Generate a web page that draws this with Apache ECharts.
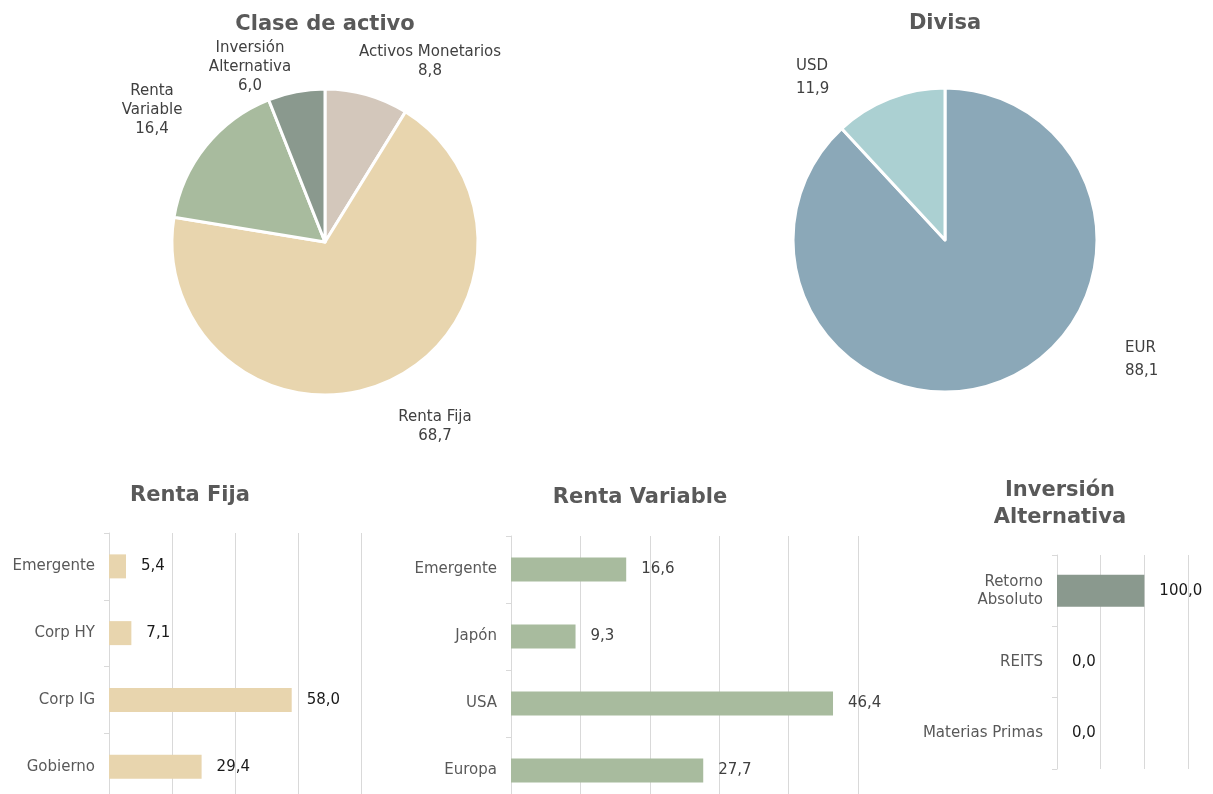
<!DOCTYPE html>
<html>
<head>
<meta charset="utf-8">
<script src="https://cdn.jsdelivr.net/npm/echarts@6/dist/echarts.min.js"></script>
<style>
  html, body { margin: 0; padding: 0; background: #fff; overflow: hidden; }
  #chart { width: 1213px; height: 812px; }
</style>
</head>
<body>
<div id="chart"></div>
<script>
// pie: asset class
const claseNames = ["Activos Monetarios", "Renta Fija", "Renta Variable", "Inversión Alternativa"];
const claseLabels = ["Activos Monetarios", "Renta Fija", "Renta\nVariable", "Inversión\nAlternativa"];
const claseValues = [8.8, 68.7, 16.4, 6.0];
const claseColors = ["#d3c7bb", "#e8d5ae", "#a8bb9e", "#8a998e"];

// pie: currency
const divisaNames = ["EUR", "USD"];
const divisaValues = [88.1, 11.9];
const divisaColors = ["#8ba8b8", "#abd0d2"];

// bars
const rfCats = ["Emergente", "Corp HY", "Corp IG", "Gobierno"];
const rfValues = [5.4, 7.1, 58.0, 29.4];
const rvCats = ["Emergente", "Japón", "USA", "Europa"];
const rvValues = [16.6, 9.3, 46.4, 27.7];
const iaCats = ["Retorno\nAbsoluto", "REITS", "Materias Primas"];
const iaValues = [100.0, 0.0, 0.0];

// label positions for the pies (text block anchors)
const clasePos = [[430, 62, "center"], [435, 427, "center"], [152, 110, "center"], [250, 67, "center"]];
const divisaPos = [[1125, 360, "left"], [796, 78, "left"]];

const FONT = "'DejaVu Sans', Verdana, sans-serif";
const fmt = v => v.toFixed(1).replace(".", ",");

const chart = echarts.init(document.getElementById("chart"));

function titleAt(text, x, y) {
  return {
    text: text, left: x, top: y, textAlign: "center", padding: 0,
    textStyle: { fontFamily: FONT, fontSize: 21, fontWeight: "bold", color: "#595959", lineHeight: 27 }
  };
}

function barGrid(left, top, width, height) {
  return { left: left, top: top, width: width, height: height, containLabel: false };
}

function xAx(idx, max, interval) {
  return {
    type: "value", gridIndex: idx, min: 0, max: max, interval: interval,
    axisLabel: { show: false }, axisLine: { show: false }, axisTick: { show: false },
    splitLine: { show: true, lineStyle: { color: "#d9d9d9", width: 1 } }
  };
}

function yAx(idx, cats) {
  return {
    type: "category", gridIndex: idx, data: cats, inverse: true,
    axisLine: { show: true, lineStyle: { color: "#d9d9d9", width: 1 } },
    axisTick: { show: true, length: 5, lineStyle: { color: "#d9d9d9" } },
    axisLabel: { fontFamily: FONT, fontSize: 15, color: "#595959", margin: 14, lineHeight: 18, align: "right" },
    splitLine: { show: false }
  };
}

function barSeries(idx, values, color, labelColor, barWidth) {
  return {
    type: "bar", xAxisIndex: idx, yAxisIndex: idx, data: values, barWidth: barWidth,
    itemStyle: { color: color },
    label: {
      show: true, position: "right", distance: 15,
      fontFamily: FONT, fontSize: 15, color: labelColor,
      formatter: p => fmt(p.value)
    },
    animation: false
  };
}

function pieLayout(pos) {
  return function (p) {
    const q = pos[p.dataIndex];
    return { x: q[0], y: q[1], align: q[2], verticalAlign: "middle" };
  };
}

chart.setOption({
  animation: false,
  title: [
    titleAt("Clase de activo", 325, 11),
    titleAt("Divisa", 945, 10),
    titleAt("Renta Fija", 190, 482),
    titleAt("Renta Variable", 640, 484),
    titleAt("Inversión\nAlternativa", 1060, 477)
  ],
  grid: [
    barGrid(109, 533, 252, 267),
    barGrid(511, 536, 347, 268),
    barGrid(1057, 555, 131, 214)
  ],
  xAxis: [xAx(0, 80, 20), xAx(1, 50, 10), xAx(2, 150, 50)],
  yAxis: [yAx(0, rfCats), yAx(1, rvCats), yAx(2, iaCats)],
  series: [
    {
      type: "pie", center: [325, 242], radius: 153, startAngle: 90, clockwise: true,
      data: claseNames.map((n, i) => ({ name: n, value: claseValues[i], itemStyle: { color: claseColors[i] } })),
      itemStyle: { borderColor: "#fff", borderWidth: 3 },
      label: {
        show: true, position: "outside", fontFamily: FONT, fontSize: 15, color: "#404040", lineHeight: 19,
        formatter: p => claseLabels[p.dataIndex] + "\n" + fmt(p.value)
      },
      labelLine: { show: false },
      labelLayout: pieLayout(clasePos),
      emphasis: { disabled: true }
    },
    {
      type: "pie", center: [945, 240], radius: 152, startAngle: 90, clockwise: true,
      data: divisaNames.map((n, i) => ({ name: n, value: divisaValues[i], itemStyle: { color: divisaColors[i] } })),
      itemStyle: { borderColor: "#fff", borderWidth: 3 },
      label: {
        show: true, position: "outside", fontFamily: FONT, fontSize: 15, color: "#404040", lineHeight: 23,
        formatter: p => p.name + "\n" + fmt(p.value)
      },
      labelLine: { show: false },
      labelLayout: pieLayout(divisaPos),
      emphasis: { disabled: true }
    },
    barSeries(0, rfValues, "#e8d5ae", "#1a1a1a", 24),
    barSeries(1, rvValues, "#a8bb9e", "#404040", 24),
    barSeries(2, iaValues, "#8a998e", "#1a1a1a", 32)
  ]
});
</script>
</body>
</html>
